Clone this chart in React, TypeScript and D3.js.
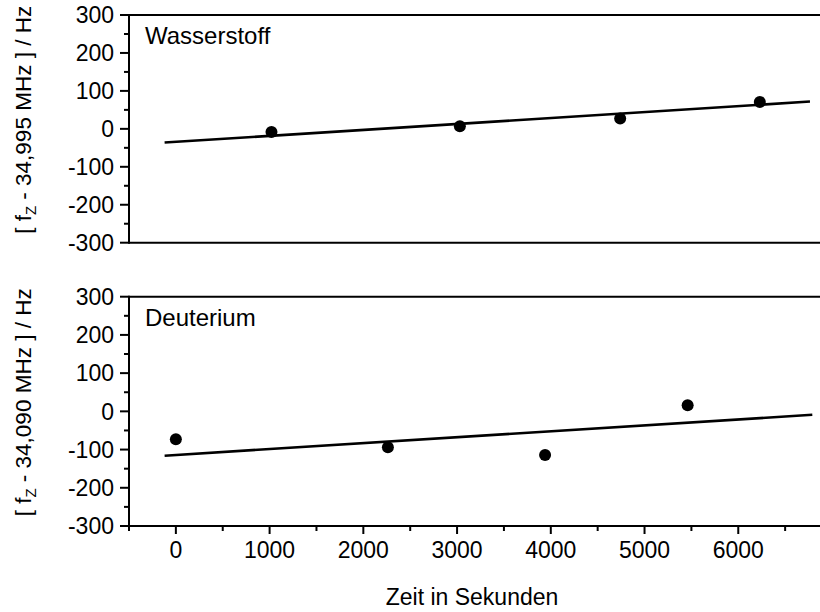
import React from "react";
import * as d3 from "d3";

// ---- data ----
const panelNames = ["Wasserstoff", "Deuterium"];
const offsetLabels = ["34,995", "34,090"];

const h2Times = [1020, 3030, 4740, 6230];
const h2Values = [-8, 7, 27, 71];
const h2FitTimes = [-120, 6765];
const h2FitValues = [-36, 72];

const d2Times = [0, 2262, 3939, 5460];
const d2Values = [-73, -94, -114, 16];
const d2FitTimes = [-120, 6790];
const d2FitValues = [-116, -9];

const xTickValues = [0, 1000, 2000, 3000, 4000, 5000, 6000];
const xMinorValues = [-500, 500, 1500, 2500, 3500, 4500, 5500, 6500];
const yTickValues = [-300, -200, -100, 0, 100, 200, 300];
const yMinorValues = [-250, -150, -50, 50, 150, 250];

const xDomain = [-500, 7000];
const yDomain = [-300, 300];

const FONT = "'Liberation Sans', Arial, Helvetica, sans-serif";

const x = d3.scaleLinear().domain(xDomain).range([129, 832]);

const panels = [
  {
    name: panelNames[0],
    offset: offsetLabels[0],
    times: h2Times,
    values: h2Values,
    fitT: h2FitTimes,
    fitV: h2FitValues,
    y: d3.scaleLinear().domain(yDomain).range([242.7, 15]),
    showX: false,
  },
  {
    name: panelNames[1],
    offset: offsetLabels[1],
    times: d2Times,
    values: d2Values,
    fitT: d2FitTimes,
    fitV: d2FitValues,
    y: d3.scaleLinear().domain(yDomain).range([526, 296.7]),
    showX: true,
  },
];

function Panel({ p }: { p: (typeof panels)[number] }) {
  const y = p.y;
  const [x0, x1] = x.range();
  const [yb, yt] = y.range();
  const line = d3
    .line<number>()
    .x((_, i) => x(p.fitT[i]))
    .y((v) => y(v));
  const yMid = (yb + yt) / 2;
  return (
    <g>
      <line x1={x0} x2={x1 + 10} y1={yt} y2={yt} stroke="#000" strokeWidth={2} />
      <line x1={x0} x2={x1 + 10} y1={yb} y2={yb} stroke="#000" strokeWidth={2} />
      <line x1={x0} x2={x0} y1={yt - 1} y2={yb + 1} stroke="#000" strokeWidth={2} />
      {yTickValues.map((v) => (
        <g key={"yt" + v}>
          <line x1={x0 - 9} x2={x0} y1={y(v)} y2={y(v)} stroke="#000" strokeWidth={2} />
          <text
            x={x0 - 15}
            y={y(v)}
            dy="0.36em"
            textAnchor="end"
            fontFamily={FONT}
            fontSize={23}
            fill="#000"
          >
            {v}
          </text>
        </g>
      ))}
      {yMinorValues.map((v) => (
        <line key={"ym" + v} x1={x0 - 5} x2={x0} y1={y(v)} y2={y(v)} stroke="#000" strokeWidth={2} />
      ))}
      {p.showX && (
        <g>
          {xTickValues.map((t) => (
            <g key={"xt" + t}>
              <line x1={x(t)} x2={x(t)} y1={yb} y2={yb + 8} stroke="#000" strokeWidth={2} />
              <text
                x={x(t)}
                y={yb + 32}
                textAnchor="middle"
                fontFamily={FONT}
                fontSize={23}
                fill="#000"
              >
                {t}
              </text>
            </g>
          ))}
          {xMinorValues.map((t) => (
            <line key={"xm" + t} x1={x(t)} x2={x(t)} y1={yb} y2={yb + 5} stroke="#000" strokeWidth={2} />
          ))}
        </g>
      )}
      <text x={145} y={yt + 29} fontFamily={FONT} fontSize={24} fill="#000">
        {p.name}
      </text>
      <path d={line(p.fitV) || ""} fill="none" stroke="#000" strokeWidth={2.6} />
      {p.times.map((t, i) => (
        <circle key={"pt" + i} cx={x(t)} cy={y(p.values[i])} r={6} fill="#000" />
      ))}
      <text
        transform={`translate(31,${yMid - 9}) rotate(-90)`}
        textAnchor="middle"
        fontFamily={FONT}
        fontSize={22.5}
        fill="#000"
      >
        <tspan>[ f</tspan>
        <tspan fontSize={15} dy={5}>
          Z
        </tspan>
        <tspan dy={-5}>{` - ${p.offset} MHz ] / Hz`}</tspan>
      </text>
    </g>
  );
}

export default function App() {
  return (
    <svg
      width={820}
      height={612}
      viewBox="0 0 820 612"
      style={{ position: "absolute", left: 0, top: 0, background: "#fff" }}
    >
      <rect x={0} y={0} width={820} height={612} fill="#fff" />
      {panels.map((p, i) => (
        <Panel key={i} p={p} />
      ))}
      <text x={472} y={605} textAnchor="middle" fontFamily={FONT} fontSize={23} fill="#000">
        Zeit in Sekunden
      </text>
    </svg>
  );
}
